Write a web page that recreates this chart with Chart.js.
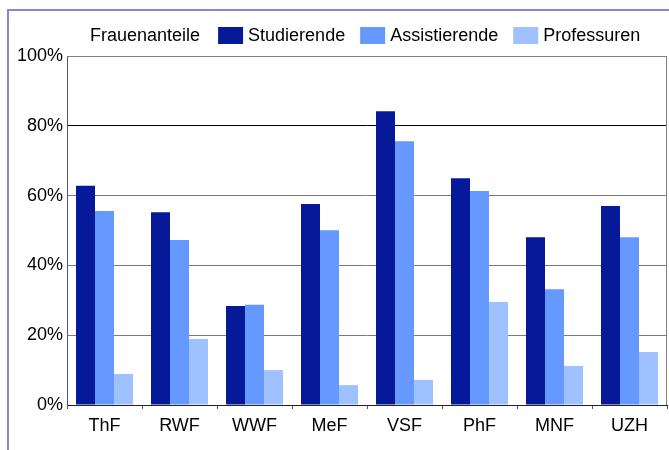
<!DOCTYPE html>
<html>
<head>
<meta charset="utf-8">
<script src="https://cdn.jsdelivr.net/npm/chart.js@4/dist/chart.umd.min.js"></script>
<style>
  body { margin: 0; background: #fff; }
  canvas { display: block; }
</style>
</head>
<body>
<canvas id="chart" width="669" height="450"></canvas>
<script>
const FONT = "'Liberation Sans', Arial, sans-serif";

const faculties = ['ThF', 'RWF', 'WWF', 'MeF', 'VSF', 'PhF', 'MNF', 'UZH'];
const studierende = [62.8, 55.2, 28.4, 57.6, 84.2, 65.0, 48.1, 57.0];
const assistierende = [55.6, 47.3, 28.7, 50.1, 75.6, 61.3, 33.2, 48.1];
const professuren = [8.9, 18.9, 10.0, 5.7, 7.2, 29.5, 11.2, 15.2];
const legendTitle = 'Frauenanteile';

// outer frame (blue left/top border) and plot box
const framePlugin = {
  id: 'frame',
  beforeDraw(chart) {
    const ctx = chart.ctx;
    ctx.save();
    ctx.strokeStyle = '#8686cc';
    ctx.lineWidth = 2;
    ctx.beginPath();
    ctx.moveTo(8, 450);
    ctx.lineTo(8, 10);
    ctx.lineTo(669, 10);
    ctx.stroke();
    ctx.restore();
  },
  afterDraw(chart) {
    const a = chart.chartArea;
    const ctx = chart.ctx;
    ctx.save();
    ctx.strokeStyle = '#808080';
    ctx.lineWidth = 1;
    ctx.beginPath();
    ctx.moveTo(Math.round(a.left) + 0.5, Math.round(a.top) + 0.5);
    ctx.lineTo(Math.round(a.right) - 0.5, Math.round(a.top) + 0.5);
    ctx.lineTo(Math.round(a.right) - 0.5, Math.round(a.bottom));
    ctx.stroke();
    ctx.restore();
  }
};

// inline legend: title followed by the series
const inlineLegend = {
  id: 'inlineLegend',
  afterDraw(chart) {
    const ctx = chart.ctx;
    ctx.save();
    ctx.font = '18px ' + FONT;
    ctx.textBaseline = 'middle';
    ctx.fillStyle = '#000';
    let x = 90;
    const y = 36;
    ctx.fillText(legendTitle, x, y);
    x += ctx.measureText(legendTitle).width + 18;
    chart.data.datasets.forEach(ds => {
      ctx.fillStyle = ds.backgroundColor;
      ctx.fillRect(x, 27, 25, 17);
      x += 25 + 5;
      ctx.fillStyle = '#000';
      ctx.fillText(ds.label, x, y);
      x += ctx.measureText(ds.label).width + 15;
    });
    ctx.restore();
  }
};

new Chart(document.getElementById('chart'), {
  type: 'bar',
  data: {
    labels: faculties,
    datasets: [
      { label: 'Studierende', data: studierende, backgroundColor: '#061a99' },
      { label: 'Assistierende', data: assistierende, backgroundColor: '#6699ff' },
      { label: 'Professuren', data: professuren, backgroundColor: '#a0c1ff' }
    ]
  },
  options: {
    responsive: false,
    animation: false,
    events: [],
    categoryPercentage: 0.76,
    barPercentage: 1.0,
    layout: { padding: { top: 56, right: 2, left: 0, bottom: 0 } },
    plugins: {
      legend: { display: false },
      tooltip: { enabled: false }
    },
    scales: {
      x: {
        grid: { drawOnChartArea: false, drawTicks: true, tickLength: 4, color: '#555' },
        border: { color: '#222', width: 1 },
        ticks: { color: '#000', font: { family: FONT, size: 18 }, padding: 6, maxRotation: 0 },
        afterFit(scale) { scale.height = 45; }
      },
      y: {
        min: 0,
        max: 100,
        grid: {
          drawTicks: false,
          color: ctx => ctx.tick && ctx.tick.value === 80 ? '#000' : '#7a7a7a'
        },
        border: { color: '#555', width: 1 },
        ticks: {
          stepSize: 20,
          color: '#000',
          padding: 4,
          font: { family: FONT, size: 18 },
          callback: v => v + '%'
        },
        afterFit(scale) { scale.width = 67; }
      }
    }
  },
  plugins: [framePlugin, inlineLegend]
});
</script>
</body>
</html>
